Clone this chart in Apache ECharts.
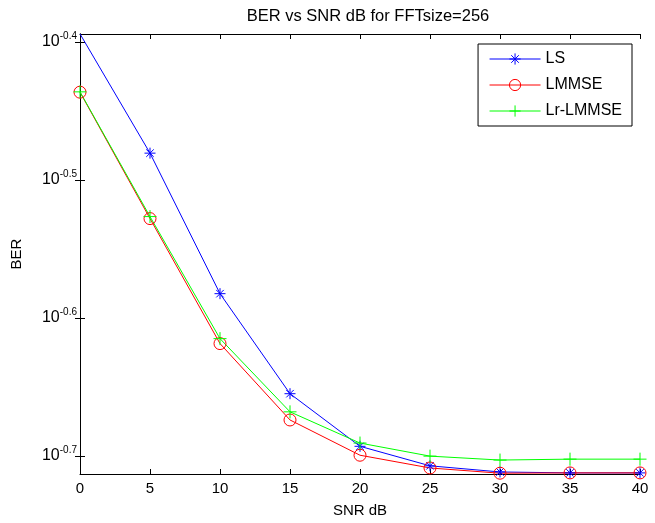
<!DOCTYPE html>
<html>
<head>
<meta charset="utf-8">
<script src="https://cdn.jsdelivr.net/npm/echarts@6/dist/echarts.min.js"></script>
<style>
  html, body { margin: 0; padding: 0; background: #fff; }
  #chart { width: 655px; height: 523px; }
</style>
</head>
<body>
<div id="chart"></div>
<script>
  // SNR points (dB)
  const snr = [0, 5, 10, 15, 20, 25, 30, 35, 40]
  // BER values
  const berLS = [0.4035, 0.3307, 0.2616, 0.2214, 0.2028, 0.1963, 0.1943, 0.1940, 0.1940]
  const berLMMSE = [0.3661, 0.2965, 0.2407, 0.2119, 0.1998, 0.1956, 0.1939, 0.1940, 0.1940]
  const berLrLMMSE = [0.3663, 0.2975, 0.2427, 0.2148, 0.2039, 0.1995, 0.1982, 0.1985, 0.1985]
  // y axis is log10(BER); decade exponents used as tick labels
  const yTicks = [-0.7, -0.6, -0.5, -0.4]
  const yMin = -0.7130
  const yMax = -0.39425

  const font = 'Liberation Sans, Arial, Helvetica, sans-serif'
  const asterisk = 'path://M5 0L5 10M0 5L10 5M1.6 1.6L8.4 8.4M1.6 8.4L8.4 1.6'
  const plus = 'path://M5 0L5 10M0 5L10 5'

  const toPairs = (ys) => snr.map((x, i) => [x, Math.log10(ys[i])])

  const myChart = echarts.init(document.getElementById('chart'))

  const tickStyle = { inside: true, length: 5, lineStyle: { color: '#000', width: 1 } }
  const lineStyle = { lineStyle: { color: '#000', width: 1 } }

  const option = {
    animation: false,
    backgroundColor: '#fff',
    title: {
      text: 'BER vs SNR dB for FFTsize=256',
      left: 363,
      top: 3,
      textAlign: 'center',
      textStyle: { fontFamily: font, fontSize: 16.5, fontWeight: 'normal', color: '#000' }
    },
    grid: { left: 80, right: 15, top: 34, bottom: 48 },
    legend: {
      orient: 'vertical',
      right: 23,
      top: 44,
      backgroundColor: '#fff',
      borderColor: '#000',
      borderWidth: 1,
      padding: [7, 10, 7, 11],
      itemWidth: 51,
      itemHeight: 14,
      itemGap: 10,
      lineStyle: { width: 1 },
      itemStyle: { borderWidth: 1 },
      textStyle: { fontFamily: font, fontSize: 16, color: '#000' },
      data: ['LS', 'LMMSE', 'Lr-LMMSE']
    },
    xAxis: [
      {
        type: 'value',
        min: 0,
        max: 40,
        interval: 5,
        name: 'SNR dB',
        nameLocation: 'middle',
        nameGap: 29,
        nameTextStyle: { fontFamily: font, fontSize: 15, color: '#000' },
        axisLine: lineStyle,
        axisTick: tickStyle,
        axisLabel: { fontFamily: font, fontSize: 15, color: '#000', margin: 7 },
        splitLine: { show: false }
      },
      {
        type: 'value',
        position: 'top',
        min: 0,
        max: 40,
        interval: 5,
        axisLine: lineStyle,
        axisTick: tickStyle,
        axisLabel: { show: false },
        splitLine: { show: false }
      }
    ],
    yAxis: [
      {
        type: 'value',
        min: yMin,
        max: yMax,
        name: 'BER',
        nameLocation: 'middle',
        nameGap: 56,
        nameTextStyle: { fontFamily: font, fontSize: 15, color: '#000' },
        axisLine: lineStyle,
        axisTick: Object.assign({ customValues: yTicks }, tickStyle),
        axisLabel: {
          customValues: yTicks,
          margin: 3,
          formatter: (v) => '{b|10}{s|' + v.toFixed(1) + '}',
          rich: {
            b: { fontFamily: font, fontSize: 16, color: '#000' },
            s: { fontFamily: font, fontSize: 10, color: '#000', padding: [0, 0, 11, 0] }
          }
        },
        splitLine: { show: false }
      },
      {
        type: 'value',
        position: 'right',
        min: yMin,
        max: yMax,
        axisLine: lineStyle,
        axisTick: Object.assign({ customValues: yTicks }, tickStyle),
        axisLabel: { show: false },
        splitLine: { show: false }
      }
    ],
    series: [
      {
        name: 'LS',
        type: 'line',
        data: toPairs(berLS),
        symbol: asterisk,
        symbolSize: 11,
        color: '#0000ff',
        lineStyle: { color: '#0000ff', width: 1 },
        itemStyle: { color: 'transparent', borderColor: '#0000ff', borderWidth: 1 }
      },
      {
        name: 'LMMSE',
        type: 'line',
        data: toPairs(berLMMSE),
        symbol: 'circle',
        symbolSize: 12,
        color: '#ff0000',
        lineStyle: { color: '#ff0000', width: 1 },
        itemStyle: { color: 'transparent', borderColor: '#ff0000', borderWidth: 1 }
      },
      {
        name: 'Lr-LMMSE',
        type: 'line',
        data: toPairs(berLrLMMSE),
        symbol: plus,
        symbolSize: 13,
        color: '#00ff00',
        lineStyle: { color: '#00ff00', width: 1 },
        itemStyle: { color: 'transparent', borderColor: '#00ff00', borderWidth: 1 }
      }
    ]
  }

  myChart.setOption(option)
</script>
</body>
</html>
